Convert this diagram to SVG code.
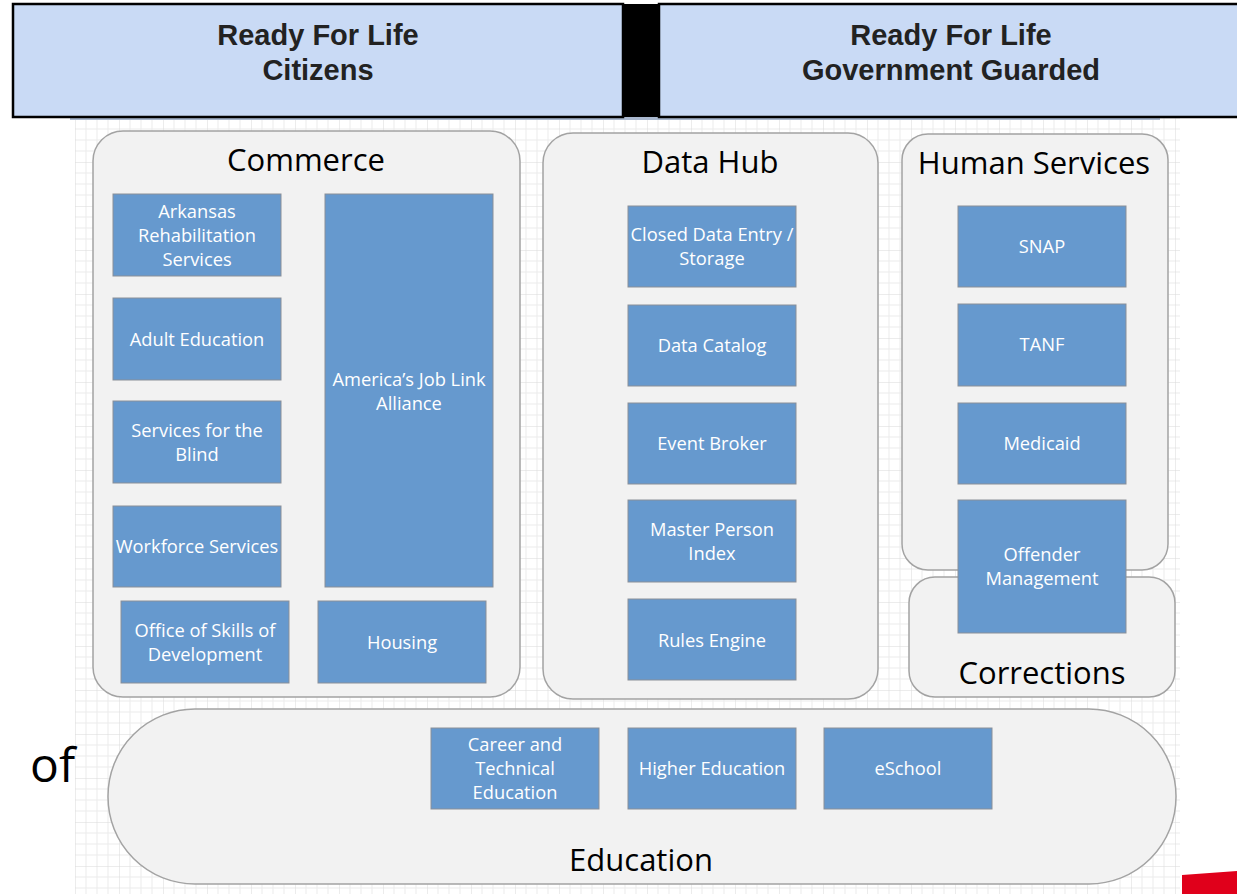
<svg xmlns="http://www.w3.org/2000/svg" width="1237" height="894" viewBox="0 0 1237 894">
<style>
.hdr{fill:#C9DAF5;stroke:#000;stroke-width:2.5}
.ht{font-family:"Liberation Sans",Arial,sans-serif;font-weight:bold;font-size:29px;fill:#222;text-anchor:middle}
.cont{fill:#F2F2F2;stroke:#A3A3A3;stroke-width:1.5}
.ct{font-family:"Open Sans","Noto Sans",sans-serif;font-size:31px;fill:#000;text-anchor:middle}
.box{fill:#6699CE;stroke:#8A8F98;stroke-width:1}
.bt{font-family:"Open Sans","Noto Sans",sans-serif;font-size:18.3px;fill:#fff;text-anchor:middle}
</style>
<defs>
<pattern id="grid" x="75" y="118" width="44" height="44" patternUnits="userSpaceOnUse">
<path d="M11 0V44M22 0V44M33 0V44M0 11H44M0 22H44M0 33H44" stroke="#EBEBEB" stroke-width="1" fill="none"/>
<path d="M0 0V44M0 0H44" stroke="#D9D9D9" stroke-width="1" fill="none"/>
</pattern>
</defs>
<rect width="1237" height="894" fill="#fff"/>
<rect x="75" y="118" width="1105" height="776" fill="url(#grid)"/>
<rect x="70" y="116" width="1090" height="4" fill="#A9B8CF"/>

<g id="header-citizens">
<rect class="hdr" x="13" y="4" width="610" height="113"/>
<text class="ht" x="318" y="45">Ready For Life</text>
<text class="ht" x="318" y="80">Citizens</text>
</g>
<rect x="623" y="4" width="36" height="113" fill="#000"/>
<g id="header-government">
<rect class="hdr" x="659" y="4" width="590" height="113"/>
<text class="ht" x="951" y="45">Ready For Life</text>
<text class="ht" x="951" y="80">Government Guarded</text>
</g>

<g id="commerce">
<rect class="cont" x="93" y="131" width="427" height="566" rx="30"/>
<text class="ct" x="306" y="171">Commerce</text>
</g>
<g id="datahub">
<rect class="cont" x="543" y="133" width="335" height="566" rx="30"/>
<text class="ct" x="710" y="173">Data Hub</text>
</g>
<g id="corrections">
<rect class="cont" x="909" y="577" width="266" height="120" rx="26"/>
<text class="ct" x="1042" y="684">Corrections</text>
</g>
<g id="humanservices">
<rect class="cont" x="902" y="134" width="266" height="436" rx="26"/>
<text class="ct" x="1034" y="174">Human Services</text>
</g>
<g id="education">
<rect class="cont" x="108" y="709" width="1068" height="175" rx="87"/>
<text class="ct" x="641" y="871">Education</text>
</g>

<g id="ars"><rect class="box" x="113" y="194" width="168" height="82"/>
<text class="bt" x="197" y="218">Arkansas</text><text class="bt" x="197" y="242">Rehabilitation</text><text class="bt" x="197" y="266">Services</text></g>
<g id="adulted"><rect class="box" x="113" y="298" width="168" height="82"/>
<text class="bt" x="197" y="346">Adult Education</text></g>
<g id="blind"><rect class="box" x="113" y="401" width="168" height="82"/>
<text class="bt" x="197" y="437">Services for the</text><text class="bt" x="197" y="461">Blind</text></g>
<g id="workforce"><rect class="box" x="113" y="506" width="168" height="81"/>
<text class="bt" x="197" y="553">Workforce Services</text></g>
<g id="skills"><rect class="box" x="121" y="601" width="168" height="82"/>
<text class="bt" x="205" y="637">Office of Skills of</text><text class="bt" x="205" y="661">Development</text></g>
<g id="housing"><rect class="box" x="318" y="601" width="168" height="82"/>
<text class="bt" x="402" y="649">Housing</text></g>
<g id="ajla"><rect class="box" x="325" y="194" width="168" height="393"/>
<text class="bt" x="409" y="386">America’s Job Link</text><text class="bt" x="409" y="410">Alliance</text></g>

<g id="closeddata"><rect class="box" x="628" y="206" width="168" height="81"/>
<text class="bt" x="712" y="241">Closed Data Entry /</text><text class="bt" x="712" y="265">Storage</text></g>
<g id="catalog"><rect class="box" x="628" y="305" width="168" height="81"/>
<text class="bt" x="712" y="352">Data Catalog</text></g>
<g id="broker"><rect class="box" x="628" y="403" width="168" height="81"/>
<text class="bt" x="712" y="450">Event Broker</text></g>
<g id="mpi"><rect class="box" x="628" y="500" width="168" height="82"/>
<text class="bt" x="712" y="536">Master Person</text><text class="bt" x="712" y="560">Index</text></g>
<g id="rules"><rect class="box" x="628" y="599" width="168" height="81"/>
<text class="bt" x="712" y="647">Rules Engine</text></g>

<g id="snap"><rect class="box" x="958" y="206" width="168" height="81"/>
<text class="bt" x="1042" y="253">SNAP</text></g>
<g id="tanf"><rect class="box" x="958" y="304" width="168" height="82"/>
<text class="bt" x="1042" y="351">TANF</text></g>
<g id="medicaid"><rect class="box" x="958" y="403" width="168" height="81"/>
<text class="bt" x="1042" y="450">Medicaid</text></g>
<g id="offender"><rect class="box" x="958" y="500" width="168" height="133"/>
<text class="bt" x="1042" y="561">Offender</text><text class="bt" x="1042" y="585">Management</text></g>

<g id="cte"><rect class="box" x="431" y="728" width="168" height="81"/>
<text class="bt" x="515" y="751">Career and</text><text class="bt" x="515" y="775">Technical</text><text class="bt" x="515" y="799">Education</text></g>
<g id="highered"><rect class="box" x="628" y="728" width="168" height="81"/>
<text class="bt" x="712" y="775">Higher Education</text></g>
<g id="eschool"><rect class="box" x="824" y="728" width="168" height="81"/>
<text class="bt" x="908" y="775">eSchool</text></g>

<g id="connectors"></g>

<text x="30" y="782" font-family="'Open Sans','Noto Sans',sans-serif" font-size="48" fill="#000">of</text>
<polygon points="1182,875 1237,871 1237,894 1182,894" fill="#E0001B"/>
</svg>
